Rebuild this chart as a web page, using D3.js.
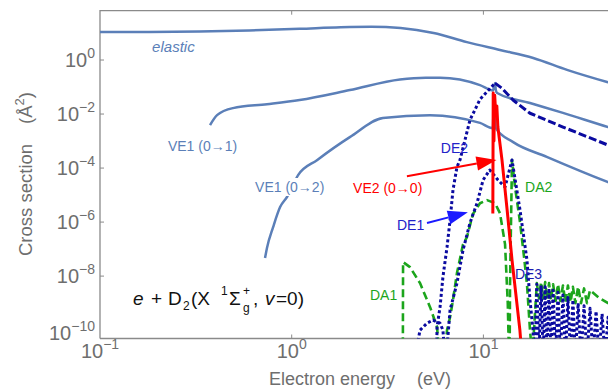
<!DOCTYPE html>
<html>
<head>
<meta charset="utf-8">
<script src="https://cdn.jsdelivr.net/npm/d3@7"></script>
<style>
  body { margin: 0; background: #fff; }
  text { font-family: "Liberation Sans", Arial, sans-serif; }
</style>
</head>
<body>
<svg id="chart" width="608" height="392"></svg>
<script>
// energies in eV, cross sections in A^2
const elasticE = [0.1, 0.18, 0.33, 0.6, 1.1, 1.8, 2.6, 3.7, 5.5, 8.2, 12.2, 18.2, 27.3, 44.2, 50];
const elasticS = [10.9, 11.0, 11.4, 12.5, 14.3, 16.3, 17.0, 15.3, 10.0, 4.6, 2.35, 1.19, 0.43, 0.153, 0.12];

const ve01E = [0.375, 0.408, 0.494, 0.743, 1.10, 2.01, 3.67, 5.0, 5.94, 9.6, 11.2, 11.4, 11.5, 11.6, 11.8, 17.5, 26.0, 44.7, 50];
const ve01S = [3.9e-3, 9.1e-3, 1.66e-2, 2.3e-2, 3.3e-2, 7.7e-2, 0.19, 0.22, 0.22, 0.118, 0.075, 0.11, 0.14, 0.08, 0.06, 0.0256, 0.011, 3.3e-3, 2.6e-3];

const ve02E = [0.726, 0.743, 0.80, 0.87, 0.945, 1.08, 1.36, 2.01, 2.99, 5.26, 9.6, 11.2, 11.35, 11.45, 11.6, 14.3, 21.4, 44.7, 50];
const ve02S = [4.7e-8, 1.1e-7, 6.5e-7, 3.6e-6, 8.5e-6, 5.5e-5, 2.0e-4, 1.4e-3, 7.1e-3, 9.1e-3, 4.7e-3, 3.0e-3, 0.05, 0.03, 3.0e-3, 9.1e-4, 2.6e-4, 3.0e-5, 2.2e-5];

const ve00E = [11.2, 11.25, 11.35, 11.45, 11.6, 11.75, 11.9, 12.5, 13.3, 14.1, 15.5, 15.9];
const ve00S = [2.1e-6, 0.06, 1e-3, 0.05, 0.01, 0.02, 3.3e-3, 2.0e-4, 2.8e-6, 4.0e-8, 1e-10, 1e-11];

const de1E = [4.4, 4.67, 5.08, 5.46, 5.94, 6.15, 6.3, 6.4, 6.70, 7.28, 7.83, 8.51, 9.26, 9.96, 10.8, 11.92, 12.97, 14.1, 15.52, 16.88, 17.5, 18.15, 18.5];
const de1S = [1e-11, 1e-10, 1.8e-10, 2.35e-10, 1.8e-10, 1e-10, 1e-11, 1e-11, 5.5e-10, 5.5e-9, 9.2e-8, 9.2e-7, 5e-6, 3.6e-5, 8.5e-5, 3.6e-5, 2.0e-5, 2.0e-4, 2.8e-6, 3.9e-8, 1.3e-9, 1e-10, 1e-11];

const de2E = [5.70, 5.73, 5.94, 6.15, 6.46, 6.70, 6.94, 7.28, 7.55, 8.51, 9.60, 11.5, 12.5, 14.27, 17.5, 26.0, 44.67, 50];
const de2S = [1e-11, 1.3e-10, 7.1e-10, 9.2e-9, 1.18e-7, 1.18e-6, 1.55e-5, 1.1e-4, 2.0e-4, 6e-3, 0.035, 0.14, 0.09, 0.033, 0.0107, 3.3e-3, 7.1e-4, 5e-4];

const de3E = [18.6, 19.0, 19.5, 20.0, 20.5, 21.0, 21.5, 22.0, 22.5, 23.1, 23.8, 24.5, 25.2, 26.0, 26.8, 27.6, 28.5, 29.3, 30.2, 31.2, 32.3, 33.5, 34.7, 36.0, 37.3, 38.7, 40.1, 41.6, 43.1, 44.7, 46.3, 48.0];
const de3S = [1e-11, 5e-9, 1e-11, 4.5e-9, 1e-11, 4e-9, 1e-11, 3.5e-9, 1e-11, 3e-9, 1e-11, 2.5e-9, 1e-11, 2.0e-9, 1e-11, 1.6e-9, 1e-11, 1.3e-9, 1e-11, 1.0e-9, 1e-11, 8e-10, 1e-11, 6.5e-10, 1e-11, 5e-10, 1e-11, 4e-10, 1e-11, 3e-10, 1e-11, 2.5e-10];

const da1E = [3.80, 3.81, 4.14, 4.67, 5.27, 5.73, 5.9, 6.3, 6.46, 6.70, 6.94, 7.28, 7.83, 8.21, 8.82, 9.60, 10.44, 11.5, 12.21, 12.97, 13.4, 13.6];
const da1S = [1e-11, 3.3e-8, 2.15e-8, 5.5e-9, 7.1e-10, 1.3e-10, 1e-11, 1e-11, 1e-10, 3e-10, 1.3e-9, 1.3e-8, 1.5e-7, 2.8e-7, 2e-6, 5.0e-6, 6.5e-6, 5.0e-6, 2.1e-6, 1.5e-7, 1e-9, 1e-11];

const da2E = [13.7, 13.77, 14.1, 14.62, 15.52, 16.3, 16.88, 17.5, 18.0, 19.0, 19.5, 20.0, 20.5, 21.0, 21.5, 22.0, 22.5, 23.1, 23.8, 24.5, 25.2, 26.0, 26.8, 27.6, 28.5, 29.3, 30.2, 31.2, 32.3, 33.5, 34.7, 36.0, 40.0, 44.7, 50];
const da2S = [1e-11, 5e-9, 2.0e-4, 2.0e-5, 1.0e-6, 5e-8, 5e-9, 1e-10, 1e-11, 5.5e-9, 1.5e-9, 6e-9, 1.5e-9, 6e-9, 1.4e-9, 5.5e-9, 1.3e-9, 5e-9, 1.2e-9, 5e-9, 1.2e-9, 4.5e-9, 1.1e-9, 4.5e-9, 1.1e-9, 4e-9, 1.0e-9, 4e-9, 1.0e-9, 3.5e-9, 1.0e-9, 3e-9, 1.6e-9, 1.0e-9, 8e-10];

const yTicks = [1, 1e-2, 1e-4, 1e-6, 1e-8, 1e-10];
const yExps = ["0", "\u22122", "\u22124", "\u22126", "\u22128", "\u221210"];
const xTicks = [0.1, 1, 10];
const xExps = ["\u22121", "0", "1"];

const svg = d3.select("#chart");
const padL = 100, padT = 10.7, padB = 338.5, decade = 191.7;

const x = d3.scaleLog().domain([0.1, 50]).range([padL, padL + decade * Math.log10(500)]);
const y = d3.scaleLog().domain([Math.pow(10, -10.31), Math.pow(10, 1.826)]).range([padB, padT]);

const axisColor = "#8a8a8a", labelColor = "#6e6e6e";
const slate = "#5b7fb8", navy = "#0a0aa0", green = "#1ca51c", red = "#ff0000";

svg.append("defs").append("clipPath").attr("id", "plot")
  .append("rect").attr("x", padL).attr("y", padT).attr("width", 608 - padL).attr("height", padB - padT);

// frame
svg.append("path")
  .attr("d", `M${padL},${padB}V${padT}H608M${padL},${padB}H608`)
  .attr("fill", "none").attr("stroke", axisColor).attr("stroke-width", 1.3);

svg.selectAll(".ytick").data(yTicks.slice(0, 5)).enter().append("line")
  .attr("x1", padL).attr("x2", padL + 4)
  .attr("y1", d => y(d)).attr("y2", d => y(d))
  .attr("stroke", axisColor);
svg.selectAll(".xtick").data(xTicks.slice(1)).enter().append("g")
  .each(function(d) {
    d3.select(this).append("line").attr("x1", x(d)).attr("x2", x(d)).attr("y1", padB).attr("y2", padB - 4).attr("stroke", axisColor);
    d3.select(this).append("line").attr("x1", x(d)).attr("x2", x(d)).attr("y1", padT).attr("y2", padT + 4).attr("stroke", axisColor);
  });

// tick labels
yTicks.forEach((d, i) => {
  const t = svg.append("text").attr("x", 95).attr("y", y(d) + 7 + (i === 5 ? 3 : 0))
    .attr("text-anchor", "end").attr("fill", labelColor).style("font-size", "20px");
  t.append("tspan").text("10");
  t.append("tspan").attr("dy", -9).style("font-size", "14px").text(yExps[i]);
});
xTicks.forEach((d, i) => {
  const t = svg.append("text").attr("x", x(d)).attr("y", 358)
    .attr("text-anchor", "middle").attr("fill", labelColor).style("font-size", "20px");
  t.append("tspan").text("10");
  t.append("tspan").attr("dy", -9).style("font-size", "14px").text(xExps[i]);
});

// axis titles
const xt = svg.append("text").attr("x", 269).attr("y", 385).attr("fill", labelColor).style("font-size", "18px");
xt.append("tspan").text("Electron energy");
xt.append("tspan").attr("dx", 22).text("(eV)");

const yt = svg.append("text").attr("transform", "translate(32,256) rotate(-90)")
  .attr("fill", labelColor).style("font-size", "18.5px");
yt.append("tspan").text("Cross section");
yt.append("tspan").attr("dx", 20).text("(\u00c5");
yt.append("tspan").attr("dy", -8).style("font-size", "13px").text("2");
yt.append("tspan").attr("dy", 8).text(")");

// curves
const plot = svg.append("g").attr("clip-path", "url(#plot)");
const line = d3.line().x(d => x(d[0])).y(d => y(d[1]));
const smooth = d3.line().x(d => x(d[0])).y(d => y(d[1])).curve(d3.curveMonotoneX);

function draw(es, ss, gen, color, width, dash) {
  plot.append("path")
    .datum(es.map((e, i) => [e, ss[i]]))
    .attr("d", gen)
    .attr("fill", "none")
    .attr("stroke", color)
    .attr("stroke-width", width)
    .attr("stroke-dasharray", dash)
    .attr("stroke-linejoin", "round");
}

draw(elasticE, elasticS, smooth, slate, 2.5, null);
draw(ve01E, ve01S, smooth, slate, 2.5, null);
draw(ve02E, ve02S, smooth, slate, 2.5, null);
draw(da1E, da1S, line, green, 2.6, "8,4");
draw(da2E, da2S, line, green, 2.6, "8,4");
draw(de1E, de1S, line, navy, 3, "3,2.5");
// DE2: fine dots on the steep rise, longer dashes on the slow tail
const de2Peak = de2S.indexOf(d3.max(de2S));
draw(de2E.slice(0, de2Peak + 1), de2S.slice(0, de2Peak + 1), line, navy, 3, "3,2.5");
draw(de2E.slice(de2Peak), de2S.slice(de2Peak), line, navy, 3, "8,3");
draw(de3E, de3S, line, navy, 3, "3,2.5");
draw(ve00E, ve00S, line, red, 3, null);

// labels (anchored at data coordinates)
function label(txt, ex, sy, color, size, italic) {
  return svg.append("text").attr("x", x(ex)).attr("y", y(sy)).attr("fill", color)
    .style("font-size", (size || 14) + "px").style("font-style", italic ? "italic" : null).text(txt);
}

// white patch behind the VE1 (0->2) label hides the curve there
svg.append("rect").attr("x", x(0.63)).attr("y", y(1.3e-5) - 14).attr("width", 76).attr("height", 18).attr("fill", "#fff");
label("elastic", 0.187, 1.98, slate, 15, true);
label("VE1 (0\u21921)", 0.226, 4.3e-4, slate);
label("VE1 (0\u21922)", 0.644, 1.3e-5, slate);
label("VE2 (0\u21920)", 2.09, 1.2e-5, red);
label("DE1", 3.54, 5.0e-7, "#2222c8");
label("DE2", 6.0, 3.6e-4, "#2222c8");
label("DE3", 14.6, 7.7e-9, "#1a1ab0");
label("DA1", 2.56, 1.29e-9, green);
label("DA2", 16.5, 1.3e-5, green);

// formula e + D2(X 1Σg+, v=0)
const formula = [
  {t: "e", x: 133, y: 305, s: 19, i: true},
  {t: "+", x: 151, y: 305, s: 19},
  {t: "D", x: 168, y: 305, s: 19},
  {t: "2", x: 183, y: 310, s: 12},
  {t: "(X", x: 191, y: 305, s: 19},
  {t: "1", x: 221, y: 295, s: 12},
  {t: "\u03a3", x: 229, y: 305, s: 19},
  {t: "+", x: 243, y: 295, s: 12},
  {t: "g", x: 243, y: 312, s: 12},
  {t: ",", x: 253, y: 305, s: 19},
  {t: "v", x: 265, y: 305, s: 19, i: true},
  {t: "=0)", x: 276, y: 305, s: 19}
];
formula.forEach(p => {
  svg.append("text").attr("x", p.x).attr("y", p.y).attr("fill", "#111")
    .style("font-size", p.s + "px").style("font-style", p.i ? "italic" : null).text(p.t);
});

// arrows
const arrows = [
  {from: [3.99, 5e-5], to: [11.7, 2.0e-4], color: red},
  {from: [5.08, 9.2e-7], to: [8.3, 2.3e-6], color: "#1a1aff"}
];
arrows.forEach(a => {
  const x1 = x(a.from[0]), y1 = y(a.from[1]), x2 = x(a.to[0]), y2 = y(a.to[1]);
  const ang = Math.atan2(y2 - y1, x2 - x1), len = 20, w = 7;
  const bx = x2 - len * Math.cos(ang), by = y2 - len * Math.sin(ang);
  svg.append("line").attr("x1", x1).attr("y1", y1).attr("x2", bx).attr("y2", by)
    .attr("stroke", a.color).attr("stroke-width", 2);
  svg.append("path")
    .attr("d", `M${x2},${y2}L${bx + w * Math.sin(ang)},${by - w * Math.cos(ang)}L${bx - w * Math.sin(ang)},${by + w * Math.cos(ang)}Z`)
    .attr("fill", a.color);
});
</script>
</body>
</html>
